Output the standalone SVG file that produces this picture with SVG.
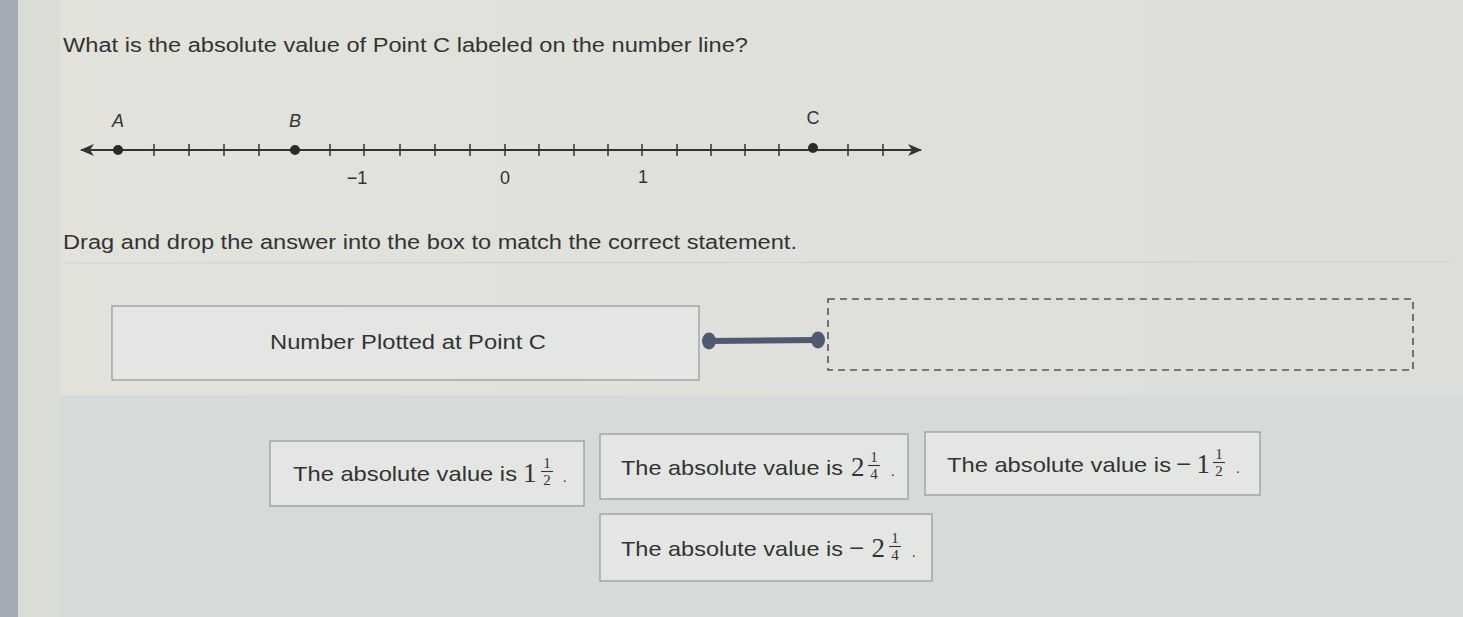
<svg xmlns="http://www.w3.org/2000/svg" width="1463" height="617" viewBox="0 0 1463 617">
<style>
.t{font-family:"Liberation Sans",Arial,sans-serif;fill:#333}
.m{font-family:"Liberation Serif","Times New Roman",serif;fill:#333}
.box{fill:#e3e6e3;stroke:#9a9d9b;stroke-width:1.3}
.tick{stroke:#333;stroke-width:1.5}
.fb{stroke:#333;stroke-width:1.1}
</style>
<defs>
<linearGradient id="bg" x1="0" y1="0" x2="1" y2="0">
<stop offset="0" stop-color="#e3e3dc"/><stop offset="1" stop-color="#dcdeda"/>
</linearGradient>
<marker id="ar" viewBox="0 0 14 12" refX="13" refY="6" markerWidth="14" markerHeight="12" orient="auto-start-reverse" markerUnits="userSpaceOnUse">
<path d="M0,0 L14,6 L0,12 L4,6 Z" fill="#333"/>
</marker>
</defs>
<rect width="1463" height="617" fill="url(#bg)"/>
<rect x="0" y="0" width="18" height="617" fill="#a3abb6"/>
<rect x="18" y="0" width="42" height="617" fill="#dadcd6"/>
<rect x="60" y="395" width="1403" height="222" fill="#d5dbdb"/>
<line x1="65" y1="263" x2="1450" y2="262" stroke="#cfd2cd" stroke-width="1.2"/>

<text class="t" x="63" y="52" font-size="20" textLength="685" lengthAdjust="spacingAndGlyphs">What is the absolute value of Point C labeled on the number line?</text>

<g id="numberline">
<line x1="81" y1="150" x2="921" y2="150" stroke="#333" stroke-width="1.8" marker-start="url(#ar)" marker-end="url(#ar)"/>
<g class="tick">
<line x1="154" y1="144" x2="154" y2="156"/><line x1="189" y1="144" x2="189" y2="156"/><line x1="224" y1="144" x2="224" y2="156"/><line x1="259" y1="144" x2="259" y2="156"/>
<line x1="330" y1="144" x2="330" y2="156"/><line x1="364" y1="144" x2="364" y2="156"/><line x1="400" y1="144" x2="400" y2="156"/><line x1="435" y1="144" x2="435" y2="156"/><line x1="470" y1="144" x2="470" y2="156"/><line x1="505" y1="144" x2="505" y2="156"/>
<line x1="539" y1="144" x2="539" y2="156"/><line x1="574" y1="144" x2="574" y2="156"/><line x1="608" y1="144" x2="608" y2="156"/><line x1="642" y1="144" x2="642" y2="156"/><line x1="677" y1="144" x2="677" y2="156"/><line x1="711" y1="144" x2="711" y2="156"/><line x1="745" y1="144" x2="745" y2="156"/><line x1="779" y1="144" x2="779" y2="156"/>
<line x1="848" y1="144" x2="848" y2="156"/><line x1="883" y1="144" x2="883" y2="156"/>
</g>
<circle cx="118" cy="150" r="5" fill="#2a2a2a"/>
<circle cx="295" cy="150" r="5" fill="#2a2a2a"/>
<circle cx="813" cy="148" r="5" fill="#2a2a2a"/>
<text class="t" x="118" y="127" font-size="18" font-style="italic" text-anchor="middle">A</text>
<text class="t" x="295" y="127" font-size="18" font-style="italic" text-anchor="middle">B</text>
<text class="t" x="813" y="124" font-size="18" text-anchor="middle">C</text>
<text class="t" x="357" y="184" font-size="18" text-anchor="middle">−1</text>
<text class="t" x="505" y="184" font-size="18" text-anchor="middle">0</text>
<text class="t" x="643" y="183" font-size="18" text-anchor="middle">1</text>
</g>

<text class="t" x="63" y="249" font-size="20" textLength="734" lengthAdjust="spacingAndGlyphs">Drag and drop the answer into the box to match the correct statement.</text>

<g id="statement">
<rect class="box" x="112" y="306" width="587" height="74" fill="#e2e5e1"/>
<text class="t" x="270" y="349" font-size="20" textLength="276" lengthAdjust="spacingAndGlyphs">Number Plotted at Point C</text>
</g>

<g id="connectors">
<line x1="709" y1="341" x2="818" y2="340" stroke="#4d5a70" stroke-width="6"/>
<ellipse cx="709" cy="341" rx="7" ry="8.5" fill="#4d5a70"/>
<ellipse cx="818" cy="340" rx="7" ry="8.5" fill="#4d5a70"/>
</g>

<g id="dropbox">
<rect x="828" y="299" width="585" height="71" fill="none" stroke="#555" stroke-width="1.6" stroke-dasharray="7,5"/>
</g>

<g id="ans1">
<rect class="box" x="270" y="441" width="314" height="65"/>
<text class="t" x="293" y="481" font-size="21" textLength="224" lengthAdjust="spacingAndGlyphs">The absolute value is</text>
<text class="m" x="523" y="482" font-size="27">1</text>
<text class="m" x="547" y="468" font-size="15" text-anchor="middle">1</text>
<line class="fb" x1="541" y1="471.5" x2="553" y2="471.5"/>
<text class="m" x="547" y="485" font-size="15" text-anchor="middle">2</text>
<text class="m" x="563" y="482" font-size="14">.</text>
</g>

<g id="ans2">
<rect class="box" x="600" y="434" width="308" height="65"/>
<text class="t" x="621" y="475" font-size="21" textLength="222" lengthAdjust="spacingAndGlyphs">The absolute value is</text>
<text class="m" x="851" y="476" font-size="27">2</text>
<text class="m" x="874" y="462" font-size="15" text-anchor="middle">1</text>
<line class="fb" x1="868" y1="465.5" x2="880" y2="465.5"/>
<text class="m" x="874" y="479" font-size="15" text-anchor="middle">4</text>
<text class="m" x="891" y="476" font-size="14">.</text>
</g>

<g id="ans3">
<rect class="box" x="925" y="432" width="335" height="63"/>
<text class="t" x="947" y="472" font-size="21" textLength="224" lengthAdjust="spacingAndGlyphs">The absolute value is</text>
<text class="m" x="1176" y="473" font-size="27" textLength="34" lengthAdjust="spacing">−1</text>
<text class="m" x="1219" y="459" font-size="15" text-anchor="middle">1</text>
<line class="fb" x1="1213" y1="462.5" x2="1225" y2="462.5"/>
<text class="m" x="1219" y="476" font-size="15" text-anchor="middle">2</text>
<text class="m" x="1236" y="473" font-size="14">.</text>
</g>

<g id="ans4">
<rect class="box" x="600" y="514" width="332" height="67"/>
<text class="t" x="621" y="556" font-size="21" textLength="222" lengthAdjust="spacingAndGlyphs">The absolute value is</text>
<text class="m" x="849" y="557" font-size="27" textLength="36" lengthAdjust="spacing">−2</text>
<text class="m" x="895" y="543" font-size="15" text-anchor="middle">1</text>
<line class="fb" x1="889" y1="546.5" x2="901" y2="546.5"/>
<text class="m" x="895" y="560" font-size="15" text-anchor="middle">4</text>
<text class="m" x="912" y="557" font-size="14">.</text>
</g>
</svg>
